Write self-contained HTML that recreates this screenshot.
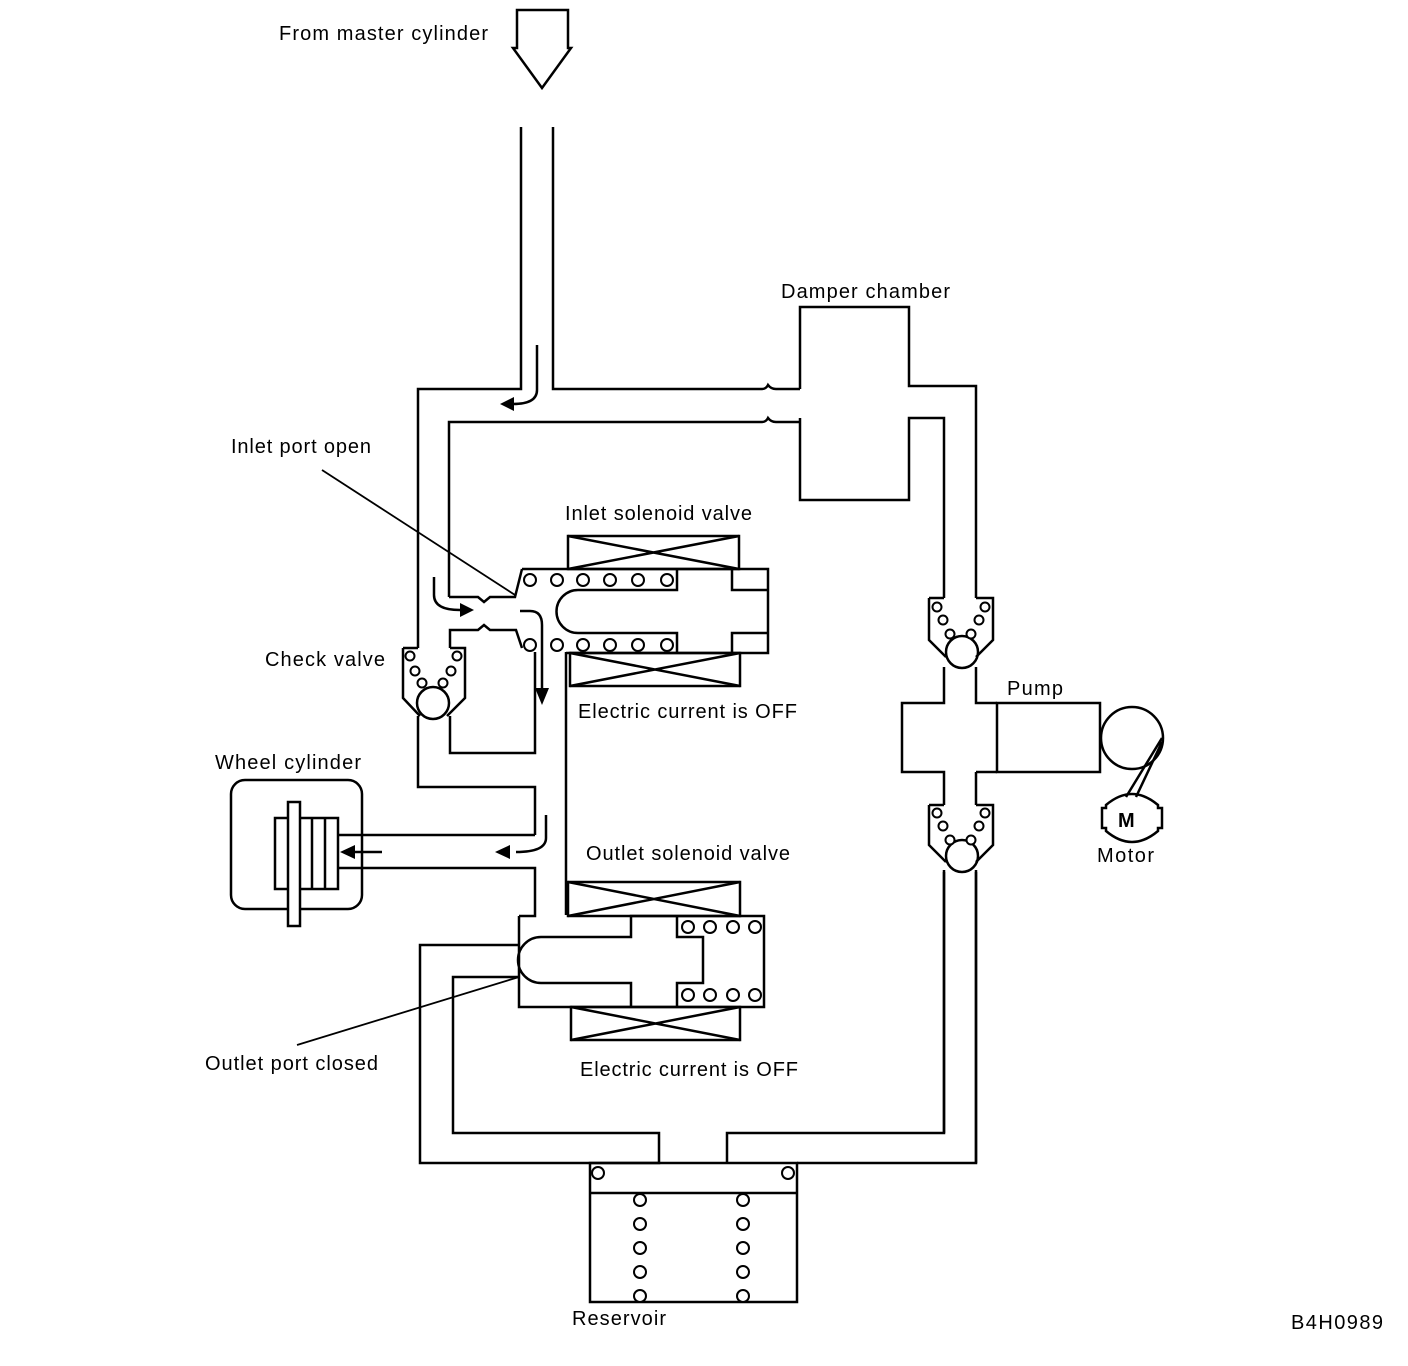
<!DOCTYPE html>
<html><head><meta charset="utf-8"><style>
html,body{margin:0;padding:0;background:#fff;}
svg{display:block;}
text{font-family:"Liberation Sans",Arial,sans-serif;font-size:20px;fill:#000;}
</style></head><body>
<svg width="1408" height="1366" viewBox="0 0 1408 1366" xmlns="http://www.w3.org/2000/svg">
<g fill="none" stroke="#000" stroke-width="2.5" stroke-linejoin="miter">
<polygon points="517,10 568,10 568,48 571,48 542,88 513,48 517,48" fill="#fff"/>
<path d="M521 127 V389 H418 V648"/>
<path d="M553 127 V389 H762 q4 0 6 -4 q3 4 8 4 H800"/>
<path d="M449 597 V422 H762 q4 0 6 -4 q3 4 8 4 H800"/>
<path d="M800 389 V307 H909 V386 H976 V598"/>
<path d="M800 418 V500 H909 V418 H944 V598"/>
<path d="M449 597 H478 l6 5 l6 -5 H515 L522 569"/>
<path d="M450 648 V630 H478 l6 -5 l6 5 H516 L522 648"/>
<path d="M522 569 H768 V653 H566"/>
<path d="M677 569 V590 H578 A21 21 0 0 0 578 633 H677 V653"/>
<path d="M732 569 V590 H768 M732 653 V633 H768"/>
<rect x="568" y="536" width="171" height="33"/>
<path d="M568 536 L739 569 M739 536 L568 569"/>
<rect x="570" y="653" width="170" height="33"/>
<path d="M570 653 L740 686 M740 653 L570 686"/>
<path d="M403 648 H418 M450 648 H465 V698 L447 716 M403 648 V698 L420 716"/>
<circle cx="433" cy="703" r="16"/>
<path d="M418 716 V787 H535 V835"/>
<path d="M450 716 V753 H535 V652"/>
<path d="M566 652 V915"/>
<rect x="231" y="780" width="131" height="129" rx="14" fill="#fff"/>
<path d="M338 835 H535"/>
<path d="M338 868 H535 V916 H519"/>
<rect x="275" y="818" width="63" height="71" fill="#fff"/>
<path d="M312 818 V889 M325 818 V889"/>
<rect x="288" y="802" width="12" height="124" fill="#fff"/>
<path d="M519 916 V1007 H764 V916 H631 V937 H541 A23 23 0 0 0 541 983 H631 V1007"/>
<path d="M677 916 V937 H703 V983 H677 V1007"/>
<rect x="568" y="882" width="172" height="34"/>
<path d="M568 882 L740 916 M740 882 L568 916"/>
<rect x="571" y="1007" width="169" height="33"/>
<path d="M571 1007 L740 1040 M740 1007 L571 1040"/>
<path d="M519 945 H420 V1163 H659 V1133 H453 V977 H519"/>
<path d="M727 1163 V1133 H944 V870"/>
<path d="M797 1163 H976 V870"/>
<rect x="590" y="1163" width="207" height="139"/>
<path d="M590 1193 H797"/>
<path d="M929 598 H944 M976 598 H993 V640 L976 657 M929 598 V640 L946 657"/>
<circle cx="962" cy="652" r="16"/>
<path d="M944 667 V703 H902 V772 H944 V805 M976 667 V703 H997 M976 772 H997 M976 772 V805"/>
<rect x="997" y="703" width="103" height="69"/>
<path d="M929 805 H944 M976 805 H993 V845 L976 862 M929 805 V845 L946 862"/>
<circle cx="962" cy="856" r="16"/>
<path d="M944 872 V1133 M976 872 V1163"/>
<circle cx="1132" cy="738" r="31"/>
<path d="M1162 738 L1126 797 M1162 742 L1136 797"/>
<path d="M1106 805 q26 -22 52 0 v3 h4 v20 h-4 v3 q-26 22 -52 0 v-3 h-4 v-20 h4 z"/>
<path d="M322 470 L515 595" stroke-width="1.8"/>
<path d="M297 1045 L519 977" stroke-width="1.8"/>
<path d="M537 345 V390 q0 14 -24 14"/>
<path d="M434 577 V595 q0 15 26 15"/>
<path d="M520 611 H530 q12 0 12 14 V690"/>
<path d="M546 815 V838 q0 14 -30 14"/>
<path d="M382 852 H350"/>
</g>
<g fill="#000">
<polygon points="500,404 514,397 514,411"/>
<polygon points="474,610 460,603 460,617"/>
<polygon points="542,705 535,688 549,688"/>
<polygon points="495,852 510,845 510,859"/>
<polygon points="340,852 355,845 355,859"/>
</g>
<g fill="#fff" stroke="#000" stroke-width="2">
<circle cx="530" cy="580" r="6"/><circle cx="557" cy="580" r="6"/><circle cx="583" cy="580" r="6"/><circle cx="610" cy="580" r="6"/><circle cx="638" cy="580" r="6"/><circle cx="667" cy="580" r="6"/>
<circle cx="530" cy="645" r="6"/><circle cx="557" cy="645" r="6"/><circle cx="583" cy="645" r="6"/><circle cx="610" cy="645" r="6"/><circle cx="638" cy="645" r="6"/><circle cx="667" cy="645" r="6"/>
<circle cx="688" cy="927" r="6"/><circle cx="710" cy="927" r="6"/><circle cx="733" cy="927" r="6"/><circle cx="755" cy="927" r="6"/>
<circle cx="688" cy="995" r="6"/><circle cx="710" cy="995" r="6"/><circle cx="733" cy="995" r="6"/><circle cx="755" cy="995" r="6"/>
<circle cx="410" cy="656" r="4.5"/><circle cx="457" cy="656" r="4.5"/><circle cx="415" cy="671" r="4.5"/><circle cx="451" cy="671" r="4.5"/><circle cx="422" cy="683" r="4.5"/><circle cx="443" cy="683" r="4.5"/>
<circle cx="937" cy="607" r="4.5"/><circle cx="985" cy="607" r="4.5"/><circle cx="943" cy="620" r="4.5"/><circle cx="979" cy="620" r="4.5"/><circle cx="950" cy="634" r="4.5"/><circle cx="971" cy="634" r="4.5"/>
<circle cx="937" cy="813" r="4.5"/><circle cx="985" cy="813" r="4.5"/><circle cx="943" cy="826" r="4.5"/><circle cx="979" cy="826" r="4.5"/><circle cx="950" cy="840" r="4.5"/><circle cx="971" cy="840" r="4.5"/>
<circle cx="598" cy="1173" r="6"/><circle cx="788" cy="1173" r="6"/>
<circle cx="640" cy="1200" r="6"/><circle cx="640" cy="1224" r="6"/><circle cx="640" cy="1248" r="6"/><circle cx="640" cy="1272" r="6"/><circle cx="640" cy="1296" r="6"/>
<circle cx="743" cy="1200" r="6"/><circle cx="743" cy="1224" r="6"/><circle cx="743" cy="1248" r="6"/><circle cx="743" cy="1272" r="6"/><circle cx="743" cy="1296" r="6"/>
</g>
<text x="279" y="40" textLength="209">From master cylinder</text>
<text x="781" y="298" textLength="169">Damper chamber</text>
<text x="231" y="453" textLength="140">Inlet port open</text>
<text x="565" y="520" textLength="187">Inlet solenoid valve</text>
<text x="265" y="666" textLength="120">Check valve</text>
<text x="578" y="718" textLength="219">Electric current is OFF</text>
<text x="1007" y="695" textLength="56">Pump</text>
<text x="215" y="769" textLength="146">Wheel cylinder</text>
<text x="586" y="860" textLength="204">Outlet solenoid valve</text>
<text x="1097" y="862" textLength="57">Motor</text>
<text x="1118" y="827" font-weight="bold" font-size="24">M</text>
<text x="205" y="1070" textLength="173">Outlet port closed</text>
<text x="580" y="1076" textLength="218">Electric current is OFF</text>
<text x="572" y="1325" textLength="94">Reservoir</text>
<text x="1291" y="1329" textLength="92">B4H0989</text>
</svg>
</body></html>
